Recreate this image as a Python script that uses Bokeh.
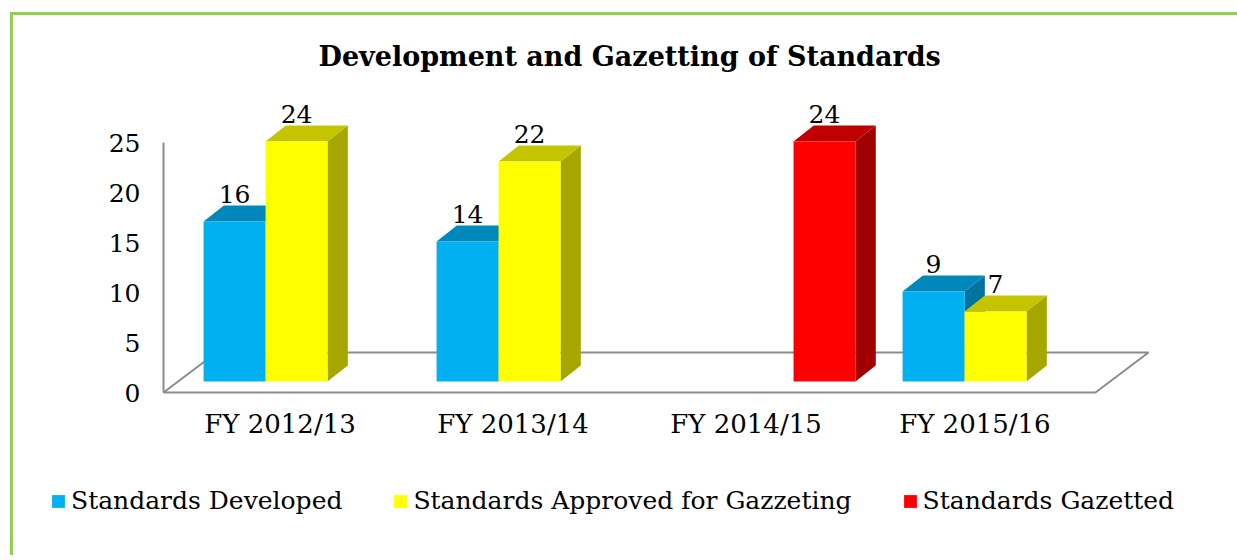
from bokeh.plotting import figure
from bokeh.models import Range1d, FixedTicker, Legend, LegendItem, ColumnDataSource
from bokeh.embed import file_html
from bokeh.resources import INLINE
from bokeh.core.properties import value

# ---- data ----
categories = ["FY 2012/13", "FY 2013/14", "FY 2014/15", "FY  2015/16"]
series_names = ["Standards Developed", "Standards Approved for Gazzeting", "Standards Gazetted"]
developed = [16, 14, 0, 9]
approved = [24, 22, 0, 7]
gazetted = [0, 0, 24, 0]
y_ticks = [0, 5, 10, 15, 20, 25]

# ---- style ----
front_colors = ["#00B0F0", "#FFFF00", "#FF0000"]
top_colors = ["#0088BA", "#C4C400", "#C00000"]
side_colors = ["#00739E", "#A6A600", "#A00000"]
FONT = "DejaVu Serif"

# 3D geometry (in axis units)
BAR_W = 0.266
GROUP_OFF = 0.172
DX, DY = 0.087, 1.6        # bar depth projection
BASE = 1.1                 # bar bottom (set back on the floor)
FDX, FDY = 0.2275, 4.0     # floor depth projection

n = len(categories)
FW, FH = 1224, 460
PX_PER_CAT = 233.0
x_start = -0.5 - 150 / PX_PER_CAT
y_end = 29.7
p = figure(frame_width=FW, frame_height=FH,
           x_range=Range1d(x_start, x_start + FW / PX_PER_CAT),
           y_range=Range1d(y_end - FH / 10.0, y_end),
           output_backend="svg", toolbar_location=None,
           min_border_left=0, min_border_right=0, min_border_top=80, min_border_bottom=0)
p.outline_line_color = None
p.xgrid.visible = False
p.ygrid.visible = False
p.background_fill_color = "white"
p.border_fill_color = "white"
p.styles = {"border-left": "3px solid #92D050", "border-top": "3px solid #92D050",
            "margin-left": "10px", "margin-top": "12px"}

# title
p.title.text = "Development and Gazetting of Standards"
p.title.text_font = FONT
p.title.text_font_style = "bold"
p.title.text_font_size = "27px"
p.title.text_color = "black"
p.title.align = "left"
p.title.offset = 305
p.title.standoff = 47

# floor
x0f, x1f = -0.5, n - 0.5
p.patch([x0f, x1f, x1f + FDX, x0f + FDX], [0, 0, FDY, FDY],
        fill_color="white", line_color="#8C8C8C", line_width=2)

# bars
legend_items = []
for s, vals in enumerate([developed, approved, gazetted]):
    xs, vs = [], []
    for i, v in enumerate(vals):
        if v > 0:
            xs.append(i - 0.5 + GROUP_OFF + s * BAR_W)
            vs.append(v)
    left = xs
    right = [x + BAR_W for x in xs]
    top = [BASE + v for v in vs]
    bottom = [BASE] * len(xs)
    side_x = [[r, r + DX, r + DX, r] for r in right]
    side_y = [[BASE, BASE + DY, t + DY, t] for t in top]
    top_x = [[l, r, r + DX, l + DX] for l, r in zip(left, right)]
    top_y = [[t, t, t + DY, t + DY] for t in top]
    p.patches(side_x, side_y, fill_color=side_colors[s], line_color=None)
    p.patches(top_x, top_y, fill_color=top_colors[s], line_color=None)
    r = p.quad(left=left, right=right, bottom=bottom, top=top,
               fill_color=front_colors[s], line_color=None)
    legend_items.append(LegendItem(label=series_names[s], renderers=[r]))
    src = ColumnDataSource(dict(x=[l + BAR_W / 2 for l in left],
                                y=[t + DY for t in top],
                                t=[str(v) for v in vs]))
    p.text(x="x", y="y", text="t", source=src, text_align="center",
           text_baseline="alphabetic", y_offset=-12,
           text_font=value(FONT), text_font_size="25px", text_color="black")

# axes (drawn at fixed locations inside the plot area)
p.yaxis.fixed_location = -0.5
p.yaxis.ticker = FixedTicker(ticks=y_ticks)
p.yaxis.bounds = (0, 25)
p.yaxis.axis_line_color = "#8C8C8C"
p.yaxis.axis_line_width = 2
p.yaxis.major_tick_line_color = None
p.yaxis.minor_tick_line_color = None
p.yaxis.major_label_standoff = 17
p.yaxis.major_label_text_font = FONT
p.yaxis.major_label_text_font_size = "25px"
p.yaxis.major_label_text_color = "black"

p.xaxis.fixed_location = -0.5
p.xaxis.ticker = FixedTicker(ticks=list(range(n)))
p.xaxis.major_label_overrides = {i: c for i, c in enumerate(categories)}
p.xaxis.axis_line_color = None
p.xaxis.major_tick_line_color = None
p.xaxis.minor_tick_line_color = None
p.xaxis.major_label_standoff = 5
p.xaxis.major_label_text_font = FONT
p.xaxis.major_label_text_font_size = "26px"
p.xaxis.major_label_text_color = "black"

legend = Legend(items=legend_items, orientation="horizontal", location=(37, 40),
                glyph_width=16, glyph_height=16, label_standoff=5, spacing=50,
                padding=0, margin=0, border_line_color=None, background_fill_color=None,
                label_text_font=FONT, label_text_font_size="25px", label_text_color="black")
p.add_layout(legend, "center")

open("out.html", "w").write(file_html(p, INLINE))
